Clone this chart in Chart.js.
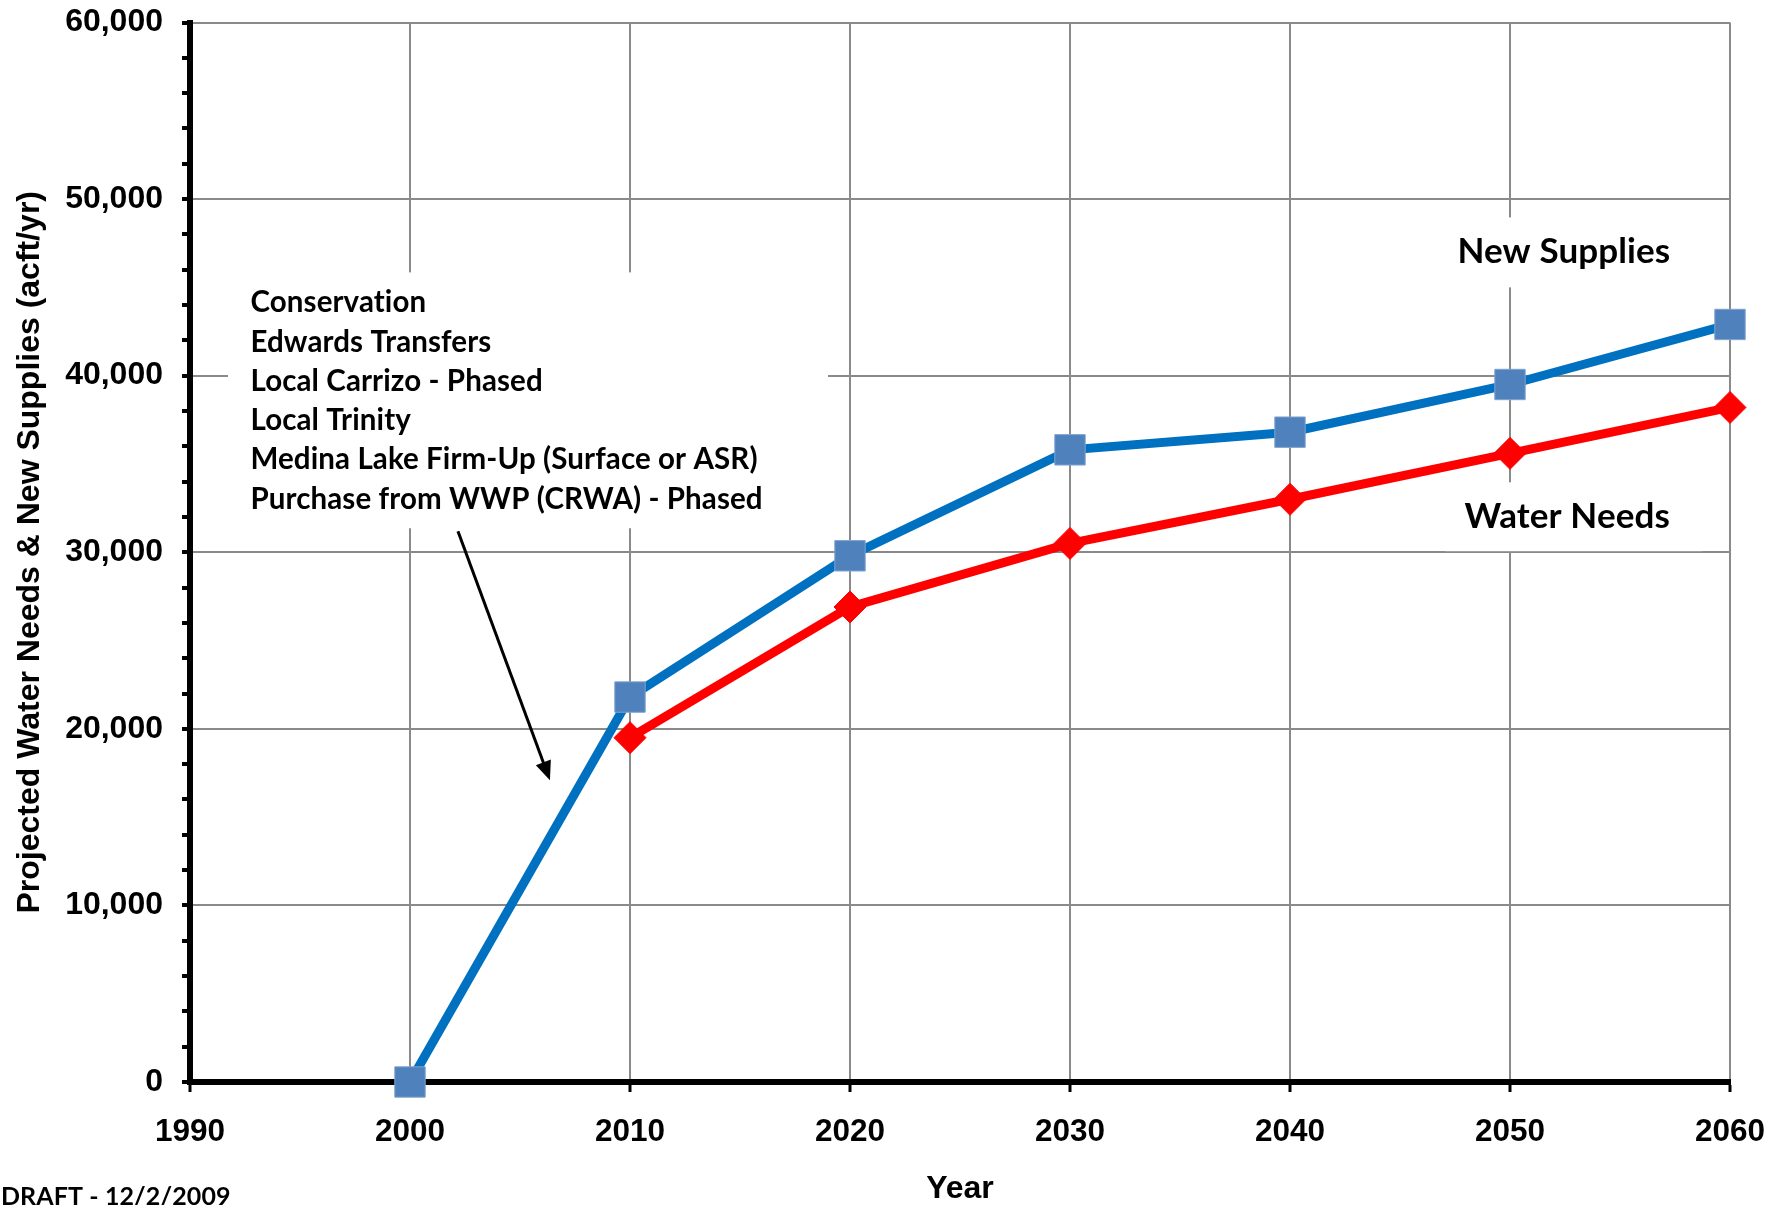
<!DOCTYPE html>
<html>
<head>
<meta charset="utf-8">
<style>
  html, body { margin: 0; padding: 0; background: #ffffff; }
  #wrap { width: 1790px; height: 1205px; position: relative; overflow: hidden; }
  canvas { display: block; }
</style>
<script src="https://cdn.jsdelivr.net/npm/chart.js@4.4.0/dist/chart.umd.min.js"></script>
</head>
<body>
<div id="wrap"><canvas id="c" width="1790" height="1205"></canvas></div>
<script>
// ---------------- data ----------------
const supplyYears = [2000, 2010, 2020, 2030, 2040, 2050, 2060];
const newSupplies = [0, 21800, 29800, 35800, 36800, 39500, 42900];
const needYears = [2010, 2020, 2030, 2040, 2050, 2060];
const waterNeeds = [19500, 26900, 30500, 33000, 35600, 38200];
const xTickYears = [1990, 2000, 2010, 2020, 2030, 2040, 2050, 2060];
const yMajorStep = 10000;
const yMinorStep = 2000;
const seriesNames = ['New Supplies', 'Water Needs'];
const strategies = [
  'Conservation',
  'Edwards Transfers',
  'Local Carrizo - Phased',
  'Local Trinity',
  'Medina Lake Firm-Up (Surface or ASR)',
  'Purchase from WWP (CRWA) - Phased'
];
const xTitle = 'Year';
const yTitle = 'Projected Water Needs & New Supplies (acft/yr)';
const draftNote = 'DRAFT - 12/2/2009';

// ---------------- styles ----------------
const AXIS_FONT = '"Liberation Sans", Arial, sans-serif';
const NOTE_FONT = 'Lato, Carlito, Calibri, sans-serif';
const GRID = '#8a8a8a';

// annotation anchors (in data units), styles separate from data
const listBox = { x0: 1991.73, x1: 2019.0, y0: 45850, y1: 31360, textX: 1992.75, firstBaseline: 43590, lineGap: 39.3, size: 29.5 };
const supplyLabel = { x0: 2047.05, x1: 2058.73, y0: 48960, y1: 45000, cx: 2052.45, baseline: 46360, size: 35 };
const needLabel = { x0: 2047.05, x1: 2058.73, y0: 33960, y1: 30060, cx: 2052.6, baseline: 31380, size: 35 };
const arrow = { x0: 2002.18, y0: 31190, x1: 2006.36, y1: 17090 };

Chart.defaults.font.family = AXIS_FONT;
Chart.defaults.color = '#000';

const notes = {
  id: 'notes',
  beforeDatasetsDraw(chart) {
    const { ctx, scales: { x, y } } = chart;
    ctx.save();
    if ('letterSpacing' in ctx) ctx.letterSpacing = '0.1px';
    ctx.fillStyle = '#fff';
    ctx.fillRect(x.getPixelForValue(listBox.x0), y.getPixelForValue(listBox.y0),
      x.getPixelForValue(listBox.x1) - x.getPixelForValue(listBox.x0),
      y.getPixelForValue(listBox.y1) - y.getPixelForValue(listBox.y0));
    ctx.fillStyle = '#000';
    ctx.font = 'bold ' + listBox.size + 'px ' + NOTE_FONT;
    ctx.textAlign = 'left';
    ctx.textBaseline = 'alphabetic';
    const tx = x.getPixelForValue(listBox.textX);
    const ty = y.getPixelForValue(listBox.firstBaseline);
    strategies.forEach((s, i) => ctx.fillText(s, tx, ty + i * listBox.lineGap));
    [[supplyLabel, seriesNames[0]], [needLabel, seriesNames[1]]].forEach(([b, t]) => {
      ctx.fillStyle = '#fff';
      ctx.fillRect(x.getPixelForValue(b.x0), y.getPixelForValue(b.y0),
        x.getPixelForValue(b.x1) - x.getPixelForValue(b.x0),
        y.getPixelForValue(b.y1) - y.getPixelForValue(b.y0));
      ctx.fillStyle = '#000';
      ctx.font = 'bold ' + b.size + 'px ' + NOTE_FONT;
      ctx.textAlign = 'center';
      ctx.fillText(t, x.getPixelForValue(b.cx), y.getPixelForValue(b.baseline));
    });
    ctx.restore();
  },
  afterDatasetsDraw(chart) {
    const { ctx, scales: { x, y } } = chart;
    const ax0 = x.getPixelForValue(arrow.x0), ay0 = y.getPixelForValue(arrow.y0);
    const ax1 = x.getPixelForValue(arrow.x1), ay1 = y.getPixelForValue(arrow.y1);
    const ang = Math.atan2(ay1 - ay0, ax1 - ax0);
    const headL = 19, headW = 8;
    ctx.save();
    ctx.strokeStyle = '#000';
    ctx.fillStyle = '#000';
    ctx.lineWidth = 3;
    ctx.beginPath();
    ctx.moveTo(ax0, ay0);
    ctx.lineTo(ax1 - Math.cos(ang) * headL * 0.8, ay1 - Math.sin(ang) * headL * 0.8);
    ctx.stroke();
    ctx.beginPath();
    ctx.moveTo(ax1, ay1);
    ctx.lineTo(ax1 - Math.cos(ang) * headL - Math.sin(ang) * headW, ay1 - Math.sin(ang) * headL + Math.cos(ang) * headW);
    ctx.lineTo(ax1 - Math.cos(ang) * headL + Math.sin(ang) * headW, ay1 - Math.sin(ang) * headL - Math.cos(ang) * headW);
    ctx.closePath();
    ctx.fill();
    if ('letterSpacing' in ctx) ctx.letterSpacing = '0.1px';
    ctx.font = 'bold 25px ' + NOTE_FONT;
    ctx.textAlign = 'left';
    ctx.textBaseline = 'alphabetic';
    ctx.fillText(draftNote, 1, chart.height);
    ctx.restore();
  }
};

new Chart(document.getElementById('c'), {
  type: 'line',
  data: {
    datasets: [
      {
        label: seriesNames[0],
        data: supplyYears.map((yr, i) => ({ x: yr, y: newSupplies[i] })),
        borderColor: '#0070C0',
        borderWidth: 9,
        pointStyle: 'rect',
        pointRadius: 21.5,
        pointBackgroundColor: '#4F81BD',
        pointBorderColor: '#7FA3CF',
        pointBorderWidth: 1,
        tension: 0,
        clip: false
      },
      {
        label: seriesNames[1],
        data: needYears.map((yr, i) => ({ x: yr, y: waterNeeds[i] })),
        borderColor: '#FF0000',
        borderWidth: 9,
        pointStyle: 'rectRot',
        pointRadius: 16,
        pointBackgroundColor: '#FF0000',
        pointBorderColor: '#FF0000',
        pointBorderWidth: 1,
        tension: 0,
        clip: false
      }
    ]
  },
  options: {
    responsive: false,
    animation: false,
    devicePixelRatio: 1,
    layout: { padding: { left: 0, right: 60, top: 22, bottom: 0 } },
    plugins: { legend: { display: false }, tooltip: { enabled: false } },
    scales: {
      x: {
        type: 'linear',
        min: xTickYears[0],
        max: xTickYears[xTickYears.length - 1],
        afterBuildTicks: s => { s.ticks = xTickYears.map(v => ({ value: v })); },
        afterFit: s => { s.height = 123; },
        ticks: {
          callback: v => String(v),
          font: { size: 31.5, weight: 'bold' },
          color: '#000',
          padding: 21,
          maxRotation: 0,
          autoSkip: false
        },
        grid: { color: GRID, lineWidth: 2, tickColor: '#000', tickWidth: 3, tickLength: 10 },
        border: { color: '#000', width: 6 },
        title: {
          display: true, text: xTitle, color: '#000',
          font: { size: 32, weight: 'bold', lineHeight: 1.0 },
          padding: { top: 0, bottom: 0 }
        }
      },
      y: {
        min: 0,
        max: 60000,
        afterFit: s => { s.width = 190; s.paddingTop = 0; s.paddingBottom = 0; },
        ticks: {
          stepSize: yMinorStep,
          autoSkip: false,
          callback: v => (v % yMajorStep === 0 ? v.toLocaleString('en-US') : ''),
          font: { size: 32, weight: 'bold' },
          color: '#000',
          padding: 19
        },
        grid: {
          color: c => (c.tick && c.tick.value % yMajorStep === 0 ? GRID : 'rgba(0,0,0,0)'),
          lineWidth: 2,
          tickColor: '#000',
          tickWidth: 4,
          tickLength: 8
        },
        border: { color: '#000', width: 6 },
        title: {
          display: true, text: yTitle, color: '#000',
          font: { size: 32, weight: 'bold' },
          padding: { top: 11, bottom: 0 }
        }
      }
    }
  },
  plugins: [notes]
});
</script>
</body>
</html>
